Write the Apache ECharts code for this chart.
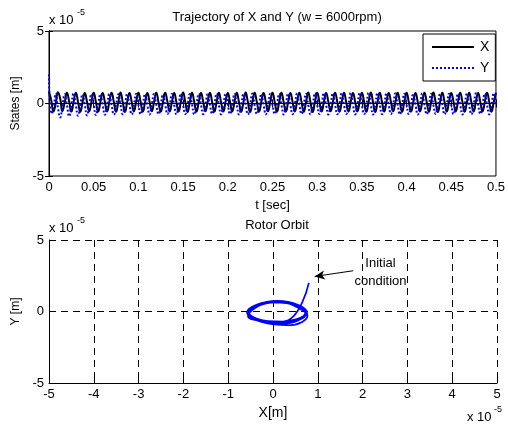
<!DOCTYPE html>
<html>
<head>
<meta charset="utf-8">
<script src="https://cdn.jsdelivr.net/npm/echarts@6/dist/echarts.min.js"></script>
<style>
html,body{margin:0;padding:0;background:#fff;}
#chart{width:508px;height:425px;}
</style>
</head>
<body>
<div id="chart"></div>
<script>
// time samples [sec]
var tSec = [
0,0.0025,0.005,0.0075,0.01,0.0125,0.015,0.0175,
0.02,0.0225,0.025,0.0275,0.03,0.0325,0.035,0.0375,
0.04,0.0425,0.045,0.0475,0.05,0.0525,0.055,0.0575,
0.06,0.0625,0.065,0.0675,0.07,0.0725,0.075,0.0775,
0.08,0.0825,0.085,0.0875,0.09,0.0925,0.095,0.0975,
0.1,0.1025,0.105,0.1075,0.11,0.1125,0.115,0.1175,
0.12,0.1225,0.125,0.1275,0.13,0.1325,0.135,0.1375,
0.14,0.1425,0.145,0.1475,0.15,0.1525,0.155,0.1575,
0.16,0.1625,0.165,0.1675,0.17,0.1725,0.175,0.1775,
0.18,0.1825,0.185,0.1875,0.19,0.1925,0.195,0.1975,
0.2,0.2025,0.205,0.2075,0.21,0.2125,0.215,0.2175,
0.22,0.2225,0.225,0.2275,0.23,0.2325,0.235,0.2375,
0.24,0.2425,0.245,0.2475,0.25,0.2525,0.255,0.2575,
0.26,0.2625,0.265,0.2675,0.27,0.2725,0.275,0.2775,
0.28,0.2825,0.285,0.2875,0.29,0.2925,0.295,0.2975,
0.3,0.3025,0.305,0.3075,0.31,0.3125,0.315,0.3175,
0.32,0.3225,0.325,0.3275,0.33,0.3325,0.335,0.3375,
0.34,0.3425,0.345,0.3475,0.35,0.3525,0.355,0.3575,
0.36,0.3625,0.365,0.3675,0.37,0.3725,0.375,0.3775,
0.38,0.3825,0.385,0.3875,0.39,0.3925,0.395,0.3975,
0.4,0.4025,0.405,0.4075,0.41,0.4125,0.415,0.4175,
0.42,0.4225,0.425,0.4275,0.43,0.4325,0.435,0.4375,
0.44,0.4425,0.445,0.4475,0.45,0.4525,0.455,0.4575,
0.46,0.4625,0.465,0.4675,0.47,0.4725,0.475,0.4775,
0.48,0.4825,0.485,0.4875,0.49,0.4925,0.495,0.4975,
0.5
];
// X displacement (x 1e-5 m)
var xState = [
0.80,0.22,-0.56,0.02, 0.77,0.34,-0.53,0.05,
0.74,0.16,-0.56,0.10, 0.75,0.10,-0.57,0.09,
0.72,0.12,-0.54,0.11, 0.74,0.09,-0.56,0.10,
0.73,0.11,-0.55,0.12, 0.75,0.10,-0.57,0.09,
0.76,0.08,-0.58,0.10, 0.73,0.11,-0.55,0.12,
0.74,0.10,-0.56,0.11, 0.72,0.12,-0.54,0.10,
0.75,0.09,-0.57,0.09, 0.74,0.11,-0.56,0.11,
0.73,0.10,-0.55,0.12, 0.76,0.08,-0.58,0.10,
0.74,0.11,-0.56,0.09, 0.72,0.12,-0.54,0.11,
0.75,0.10,-0.57,0.10, 0.74,0.09,-0.56,0.12,
0.73,0.11,-0.55,0.10, 0.75,0.10,-0.57,0.09,
0.76,0.08,-0.58,0.11, 0.74,0.11,-0.56,0.10,
0.72,0.12,-0.54,0.12, 0.75,0.09,-0.57,0.10,
0.74,0.10,-0.56,0.09, 0.73,0.11,-0.55,0.11,
0.75,0.10,-0.57,0.10, 0.76,0.09,-0.58,0.12,
0.74,0.11,-0.56,0.10, 0.72,0.12,-0.54,0.09,
0.75,0.10,-0.57,0.11, 0.74,0.09,-0.56,0.10,
0.73,0.11,-0.55,0.12, 0.75,0.10,-0.57,0.10,
0.76,0.08,-0.58,0.09, 0.74,0.11,-0.56,0.11,
0.72,0.12,-0.54,0.10, 0.75,0.09,-0.57,0.12,
0.74,0.10,-0.56,0.10, 0.73,0.11,-0.55,0.09,
0.75,0.10,-0.57,0.11, 0.76,0.09,-0.58,0.10,
0.74,0.11,-0.56,0.12, 0.72,0.12,-0.54,0.10,
0.75,0.10,-0.57,0.09, 0.74,0.09,-0.56,0.11,
0.73,0.11,-0.55,0.10, 0.75,0.10,-0.57,0.10,
0.74
];
// Y displacement (x 1e-5 m)
var yState = [
2.00,-0.70,-0.34,0.68, -0.30,-0.96,-0.16,0.64,
-0.10,-0.88,-0.08,0.70, -0.12,-0.84,-0.10,0.64,
-0.08,-0.82,-0.06,0.66, -0.10,-0.80,-0.09,0.65,
-0.09,-0.78,-0.07,0.67, -0.11,-0.76,-0.08,0.64,
-0.08,-0.74,-0.06,0.66, -0.10,-0.75,-0.09,0.68,
-0.09,-0.73,-0.07,0.65, -0.11,-0.76,-0.08,0.67,
-0.08,-0.74,-0.06,0.64, -0.10,-0.72,-0.09,0.66,
-0.09,-0.75,-0.07,0.68, -0.11,-0.73,-0.08,0.65,
-0.08,-0.76,-0.06,0.67, -0.10,-0.74,-0.09,0.66,
-0.09,-0.72,-0.07,0.68, -0.11,-0.75,-0.08,0.65,
-0.08,-0.73,-0.06,0.67, -0.10,-0.76,-0.09,0.66,
-0.09,-0.74,-0.07,0.69, -0.11,-0.72,-0.08,0.66,
-0.08,-0.75,-0.06,0.68, -0.10,-0.73,-0.09,0.67,
-0.09,-0.76,-0.07,0.69, -0.11,-0.74,-0.08,0.70,
-0.08,-0.72,-0.06,0.68, -0.10,-0.75,-0.09,0.71,
-0.09,-0.73,-0.07,0.72, -0.11,-0.76,-0.08,0.70,
-0.08,-0.74,-0.06,0.73, -0.10,-0.72,-0.09,0.74,
-0.09,-0.75,-0.07,0.72, -0.11,-0.73,-0.08,0.74,
-0.08,-0.76,-0.06,0.73, -0.10,-0.74,-0.09,0.71,
-0.09,-0.72,-0.07,0.70, -0.11,-0.75,-0.08,0.68,
-0.08,-0.73,-0.06,0.67, -0.10,-0.76,-0.09,0.69,
-0.09,-0.74,-0.07,0.68, -0.11,-0.72,-0.08,0.66,
-0.08,-0.75,-0.06,0.68, -0.10,-0.73,-0.09,0.67,
-0.09,-0.76,-0.07,0.69, -0.11,-0.74,-0.08,0.70,
-0.08,-0.72,-0.06,0.68, -0.10,-0.75,-0.09,0.70,
-0.10
];
// tick labels
var topXTicks = ['0','0.05','0.1','0.15','0.2','0.25','0.3','0.35','0.4','0.45','0.5'];
var yTicks = ['-5','0','5'];
var orbitXTicks = ['-5','-4','-3','-2','-1','0','1','2','3','4','5'];
// annotation: initial condition (x 1e-5 m)
var arrowTail = [1.79, 2.85];
var arrowHead = [0.93, 2.45];
var noteAnchor = [2.4, 2.72];

var timeX = tSec.map(function(t,i){return [t, xState[i]];});
var timeY = tSec.map(function(t,i){return [t, yState[i]];});
var orbit = xState.map(function(x,i){return [x, yState[i]];});

var FONT = 'Liberation Sans, Arial, sans-serif';
var chart = echarts.init(document.getElementById('chart'), null, {renderer:'canvas'});

function tickFmt(list, minV, step){
  return function(v){ var k = Math.round((v - minV)/step); return list[k] !== undefined ? list[k] : ''; };
}

var option = {
  animation:false,
  backgroundColor:'#fff',
  textStyle:{fontFamily:FONT},
  title:[
    {text:'Trajectory of X and Y (w = 6000rpm)', left:272, top:6, textAlign:'center',
     textStyle:{fontSize:13, fontWeight:'normal', color:'#000', fontFamily:FONT}},
    {text:'Rotor Orbit', left:272, top:214, textAlign:'center',
     textStyle:{fontSize:13, fontWeight:'normal', color:'#000', fontFamily:FONT}}
  ],
  legend:{
    data:[{name:'X'},{name:'Y'}],
    orient:'vertical', left:423, top:34,
    itemWidth:42, itemHeight:10, itemGap:7,
    padding:[6,6,6,8],
    backgroundColor:'#fff', borderColor:'#000', borderWidth:1, borderRadius:0,
    itemStyle:{opacity:0},
    textStyle:{fontSize:14, color:'#000', fontFamily:FONT, padding:[0,0,0,1]}
  },
  grid:[
    {left:49, top:31, width:448, height:145, show:true, borderColor:'#000', borderWidth:1, backgroundColor:'transparent'},
    {left:49, top:240, width:448, height:143}
  ],
  xAxis:[
    {type:'value', gridIndex:0, min:0, max:0.5, interval:0.05,
     name:'t [sec]', nameLocation:'middle', nameGap:23,
     nameTextStyle:{fontSize:13, color:'#000', fontFamily:FONT},
     axisLine:{show:true, lineStyle:{color:'#000', width:1}},
     axisTick:{show:true, inside:true, length:4, lineStyle:{color:'#000'}},
     axisLabel:{fontSize:13, color:'#000', fontFamily:FONT, margin:5, formatter:tickFmt(topXTicks,0,0.05)},
     splitLine:{show:false}},
    {type:'value', gridIndex:0, position:'top', min:0, max:0.5, interval:0.05,
     axisLine:{show:true, lineStyle:{color:'#000'}},
     axisTick:{show:true, inside:true, length:4, lineStyle:{color:'#000'}},
     axisLabel:{show:false}, splitLine:{show:false}},
    {type:'value', gridIndex:1, min:-5, max:5, interval:1,
     name:'X[m]', nameLocation:'middle', nameGap:23,
     nameTextStyle:{fontSize:14, color:'#000', fontFamily:FONT},
     axisLine:{show:true, onZero:false, lineStyle:{color:'#000', width:1}},
     axisTick:{show:true, inside:true, length:4, lineStyle:{color:'#000'}},
     axisLabel:{fontSize:13, color:'#000', fontFamily:FONT, margin:5, formatter:tickFmt(orbitXTicks,-5,1)},
     splitLine:{show:true, lineStyle:{color:'#000', width:1, type:[7,5]}}}
  ],
  yAxis:[
    {type:'value', gridIndex:0, min:-5, max:5, interval:5,
     name:'States [m]', nameLocation:'middle', nameGap:26, nameRotate:90,
     nameTextStyle:{fontSize:12, color:'#000', fontFamily:FONT},
     axisLine:{show:true, lineStyle:{color:'#000', width:1}},
     axisTick:{show:true, inside:true, length:4, lineStyle:{color:'#000'}},
     axisLabel:{fontSize:13, color:'#000', fontFamily:FONT, margin:5, formatter:tickFmt(yTicks,-5,5)},
     splitLine:{show:false}},
    {type:'value', gridIndex:0, position:'right', min:-5, max:5, interval:5,
     axisLine:{show:true, lineStyle:{color:'#000'}},
     axisTick:{show:true, inside:true, length:4, lineStyle:{color:'#000'}},
     axisLabel:{show:false}, splitLine:{show:false}},
    {type:'value', gridIndex:1, min:-5, max:5, interval:5,
     name:'Y [m]', nameLocation:'middle', nameGap:26, nameRotate:90,
     nameTextStyle:{fontSize:12, color:'#000', fontFamily:FONT},
     axisLine:{show:true, onZero:false, lineStyle:{color:'#000', width:1}},
     axisTick:{show:true, inside:true, length:4, lineStyle:{color:'#000'}},
     axisLabel:{fontSize:13, color:'#000', fontFamily:FONT, margin:5, formatter:tickFmt(yTicks,-5,5)},
     splitLine:{show:true, lineStyle:{color:'#000', width:1, type:[7,5]}}}
  ],
  series:[
    {name:'X', type:'line', xAxisIndex:0, yAxisIndex:0, data:timeX, smooth:0.5,
     symbol:'none', showSymbol:false, lineStyle:{color:'#000', width:2}, itemStyle:{color:'#000'}, z:3},
    {name:'Y', type:'line', xAxisIndex:0, yAxisIndex:0, data:timeY, smooth:0.5,
     symbol:'none', showSymbol:false, lineStyle:{color:'#0000ff', width:2, type:[2,2]}, itemStyle:{color:'#0000ff'}, z:4},
    {name:'orbit', type:'line', xAxisIndex:2, yAxisIndex:2, data:orbit, smooth:0.5,
     symbol:'none', showSymbol:false, lineStyle:{color:'#0000ff', width:1.7}, z:3,
     markLine:{silent:true, symbol:['none','arrow'], symbolSize:[7,10],
       lineStyle:{color:'#000', width:1, type:'solid'}, label:{show:false},
       data:[[{coord:arrowTail},{coord:arrowHead}]]},
     markPoint:{silent:true, symbol:'circle', symbolSize:0,
       data:[{coord:noteAnchor, label:{show:true, formatter:'Initial\ncondition', color:'#000',
         fontSize:13, fontFamily:FONT, lineHeight:18, align:'center', position:'inside'}}]}}
  ],
  graphic:[
    {type:'text', left:49, top:14, style:{text:'x 10', font:'13px '+FONT, fill:'#000'}},
    {type:'text', left:77, top:8, style:{text:'-5', font:'9px '+FONT, fill:'#000'}},
    {type:'text', left:49, top:222, style:{text:'x 10', font:'13px '+FONT, fill:'#000'}},
    {type:'text', left:77, top:216, style:{text:'-5', font:'9px '+FONT, fill:'#000'}},
    {type:'text', left:467, top:411, style:{text:'x 10', font:'13px '+FONT, fill:'#000'}},
    {type:'text', left:494, top:405, style:{text:'-5', font:'9px '+FONT, fill:'#000'}}
  ]
};
chart.setOption(option);
</script>
</body>
</html>
